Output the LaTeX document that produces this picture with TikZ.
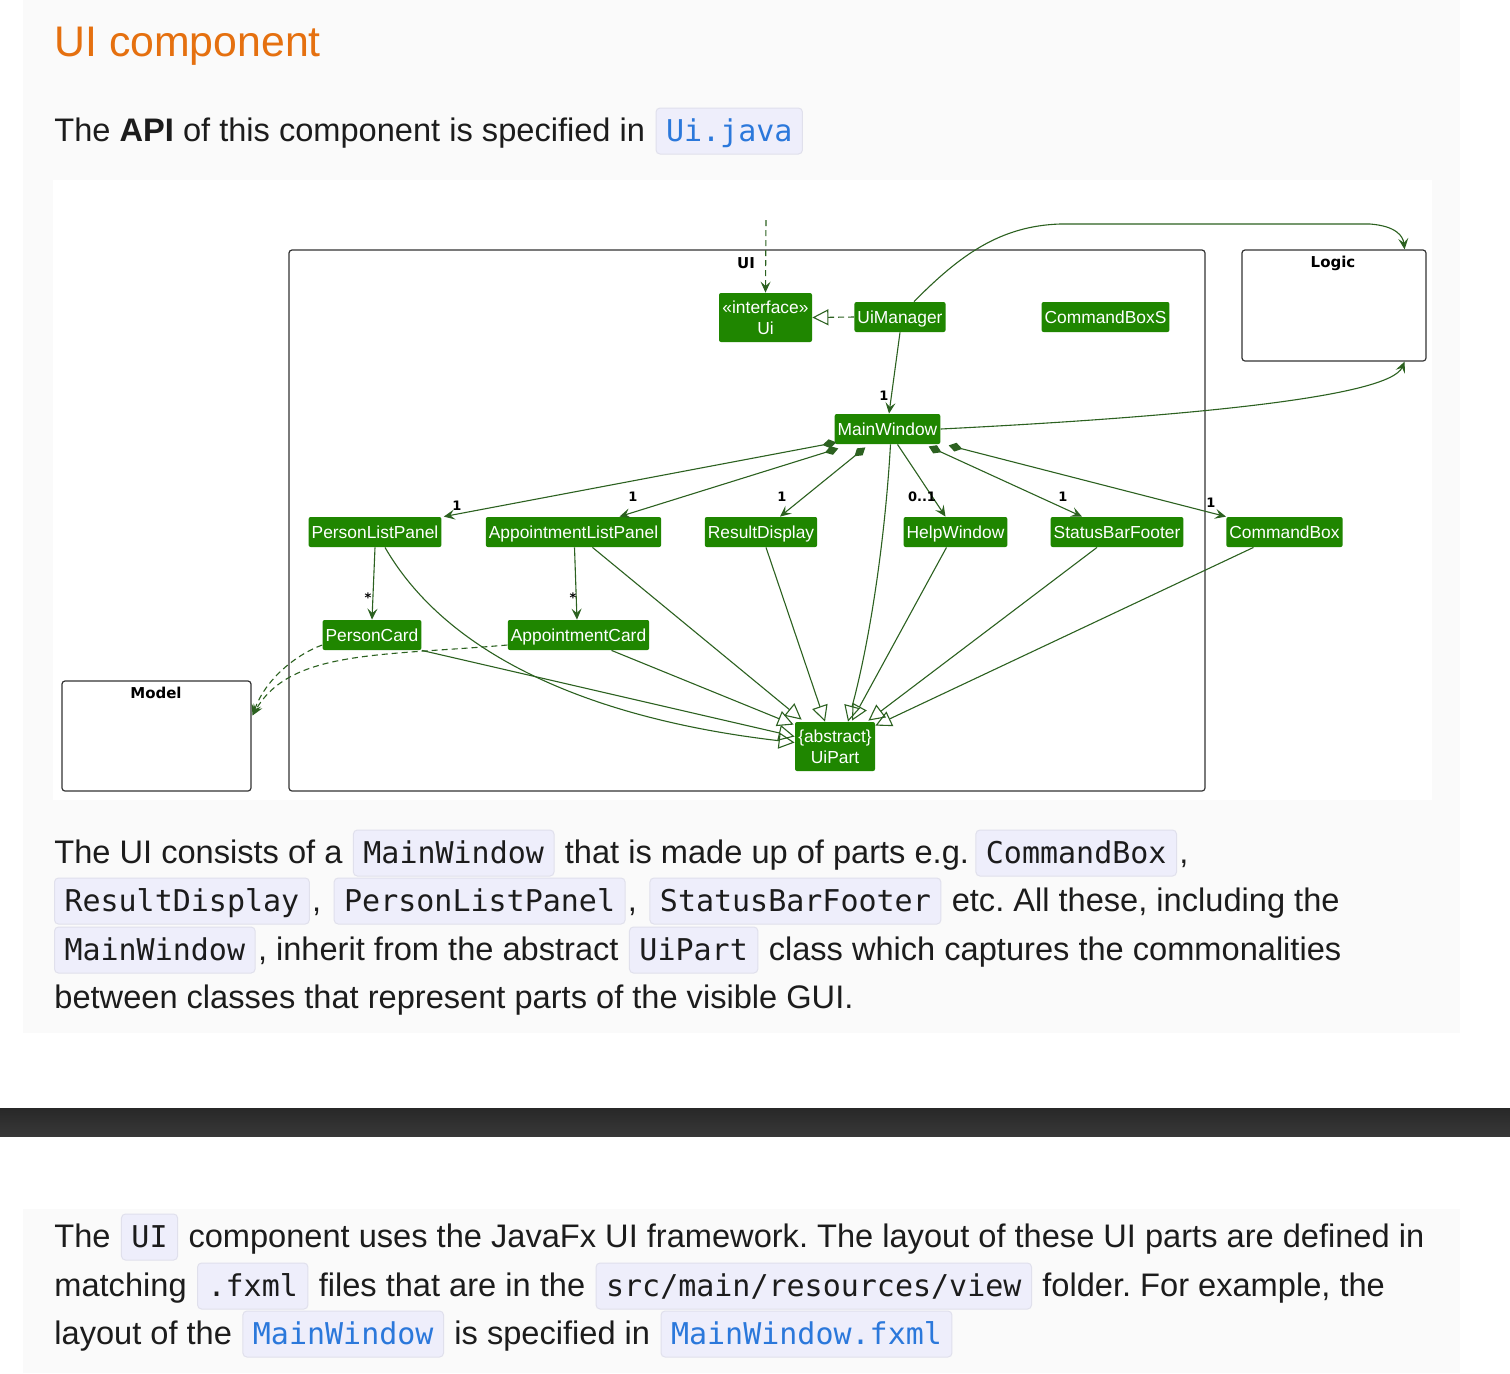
\documentclass[tikz,border=0pt]{standalone}
\usepackage{fontspec}
\setmainfont{Liberation Sans}
\newfontfamily\codefont{DejaVu Sans Mono}
\newfontfamily\labelfont{DejaVu Sans}
\usetikzlibrary{positioning, arrows.meta, calc}
\definecolor{cardbg}{HTML}{FAFAFA}
\definecolor{bodytext}{HTML}{1C1C1C}
\definecolor{titleorange}{HTML}{E5700F}
\definecolor{linkblue}{HTML}{2B78DB}
\definecolor{chipfill}{HTML}{EEEEFB}
\definecolor{chipline}{HTML}{E0E0EC}
\definecolor{umlgreen}{HTML}{1F8600}
\definecolor{edge}{HTML}{2C6120}
\definecolor{pkgline}{HTML}{333333}
\definecolor{barA}{HTML}{282828}
\definecolor{barB}{HTML}{383838}
\newcommand{\bodysize}{\fontsize{16.3}{19}\selectfont}
\frenchspacing
\tikzset{
  txt/.style={inner sep=0pt, anchor=base west, text=bodytext, font=\bodysize},
  chip/.style={draw=chipline, line width=0.5pt, fill=chipfill, rounded corners=2pt, text=bodytext,
    font=\codefont\fontsize{15}{18}\selectfont, inner xsep=5pt, inner ysep=0pt, text height=16.5pt, text depth=6.5pt},
  link/.style={text=linkblue},
  cls/.style={rectangle, rounded corners=1pt, fill=umlgreen, text=white, align=center,
    font=\fontsize{8.7}{10.5}\selectfont, inner xsep=1.5pt, inner ysep=0pt, minimum height=15pt,
    text height=7.8pt, text depth=1.6pt},
  twoline/.style={text height={}, text depth={}, minimum height=24.5pt},
  pkg/.style={draw=pkgline, line width=0.6pt, rounded corners=1.5pt},
  pkglabel/.style={font=\labelfont\bfseries\fontsize{7.5}{9}\selectfont, inner sep=0pt},
  mult/.style={font=\labelfont\bfseries\fontsize{6.5}{8}\selectfont, inner sep=0pt},
  assoc/.style={draw=edge, line width=0.55pt, -{Stealth[length=5.5pt, width=5pt, inset=2.2pt]}},
  compose/.style={draw=edge, line width=0.55pt, {Diamond[length=7pt, width=4.5pt]}-{Stealth[length=5.5pt, width=5pt, inset=2.2pt]}},
  extends/.style={draw=edge, line width=0.55pt, -{Triangle[open, length=8pt, width=8pt]}},
  realize/.style={extends, dash pattern=on 3pt off 2pt},
  depend/.style={assoc, dash pattern=on 3pt off 2pt}
}
\begin{document}
\begin{tikzpicture}[x=0.5pt, y=-0.5pt]
\useasboundingbox (0,0) rectangle (1510,1373);
% page background
\fill[white] (0,0) rectangle (1510,1373);
\fill[cardbg] (23,0) rectangle (1460,1033);
\fill[cardbg] (23,1209) rectangle (1460,1373);
\shade[top color=barA, bottom color=barB] (0,1108) rectangle (1510,1136);
\fill[white] (53,180) rectangle (1432,800);

% heading
\node[txt, text=titleorange, font=\fontsize{21.4}{25}\selectfont] (title) at (54,56) {UI component};
\node[txt] (apiA) at (54,141) {The \textbf{API} of this component is specified in};
\node[chip, link, base right=5pt of apiA] (apiB) {Ui.java};

% packages
\node[pkg, minimum width=458pt, minimum height=270.5pt] (uipkg) at (747,520.5) {};
\node[pkglabel] (uilabel) at (746,263) {UI};
\node[pkg, minimum width=92pt, minimum height=55.5pt] (logic) at (1334,305.5) {};
\node[pkglabel] (logiclabel) at (1333,263) {Logic};
\node[pkg, minimum width=94.5pt, minimum height=55pt] (model) at (156.5,736) {};
\node[pkglabel] (modellabel) at (156,693) {Model};

% classes
\node[cls, twoline, minimum width=46.5pt] (ui) at (765.5,317.5) {«interface»\\Ui};
\node[cls] (uimgr) at (900,317) {UiManager};
\node[cls] (cmdboxs) at (1105.5,317) {CommandBoxS};
\node[cls] (mainwin) at (887.5,429) {MainWindow};
\node[cls] (plp) at (375,532) {PersonListPanel};
\node[cls] (alp) at (573.5,532) {AppointmentListPanel};
\node[cls] (resdisp) at (761,532) {ResultDisplay};
\node[cls] (helpwin) at (955.5,532) {HelpWindow};
\node[cls] (sbf) at (1117,532) {StatusBarFooter};
\node[cls] (cmdbox) at (1284.5,532) {CommandBox};
\node[cls] (pcard) at (372,635) {PersonCard};
\node[cls] (acard) at (578.5,635) {AppointmentCard};
\node[cls, twoline, minimum width=40pt] (uipart) at (835,746.5) {\{abstract\}\\UiPart};

\coordinate (uiin) at (766,220);

% interface and logic
\draw[depend] (uiin) -- (ui.north);
\draw[realize] (uimgr.west) -- (ui.east);
\draw[assoc] (uimgr.south) -- ($(mainwin.north)+(1.5,0)$);
\draw[assoc] ($(uimgr.north)+(14,0)$) .. controls (960,255) and (1000,226) .. (1060,224)
  -- (1370,224) .. controls (1396,226) and (1403,236) .. ($(logic.north east)+(-22,0)$);
\draw[assoc] (mainwin.east) .. controls (1200,416) and (1390,396) .. ($(logic.south east)+(-22,0)$);

% parts of MainWindow
\draw[compose] ($(mainwin.south west)+(2,-2)$) -- ($(plp.north east)+(2,0)$);
\draw[compose] ($(mainwin.south west)+(4,4)$) -- ($(alp.north)+(46,0)$);
\draw[compose] ($(mainwin.south west)+(31,3)$) -- ($(resdisp.north)+(19,0)$);
\draw[assoc] ($(mainwin.south)+(10,0)$) -- ($(helpwin.north)+(-10,0)$);
\draw[compose] ($(mainwin.south east)+(-12,2)$) -- ($(sbf.north)+(-35,0)$);
\draw[compose] ($(mainwin.south east)+(8,1)$) -- (cmdbox.north west);
\draw[assoc] (plp.south) -- (pcard.north);
\draw[assoc] ($(alp.south)+(1,0)$) -- ($(acard.north)+(-1.5,0)$);

% multiplicities
\node[mult] (m1) at (884,396) {1};
\node[mult] (m2) at (457,506) {1};
\node[mult] (m3) at (633,497) {1};
\node[mult] (m4) at (782,497) {1};
\node[mult] (m5) at (922,497) {0..1};
\node[mult] (m6) at (1063,497) {1};
\node[mult] (m7) at (1211,503) {1};
\node[mult] (m8) at (368,598) {*};
\node[mult] (m9) at (573,598) {*};

% inheritance
\draw[extends] ($(plp.south)+(10,0)$) .. controls (450,660) and (600,720) .. ($(uipart.west)+(0,-4)$);
\draw[extends] (pcard.south east) -- ($(uipart.west)+(0,-10)$);
\draw[extends] ($(alp.south)+(19,0)$) -- ($(uipart.north west)+(7,-2)$);
\draw[extends] ($(acard.south)+(33,0)$) -- ($(uipart.north west)+(-1,3)$);
\draw[extends] ($(resdisp.south)+(5,0)$) -- ($(uipart.north)+(-10,0)$);
\draw[extends] ($(mainwin.south)+(3,0)$) .. controls (885,540) and (870,640) .. ($(uipart.north)+(13,0)$);
\draw[extends] ($(helpwin.south)+(-9,0)$) -- ($(uipart.north)+(17,-1)$);
\draw[extends] ($(sbf.south)+(-20,0)$) -- ($(uipart.north east)+(-7,-1)$);
\draw[extends] ($(cmdbox.south)+(-31,0)$) -- ($(uipart.north east)+(0,4)$);

% use of Model
\draw[depend] ($(pcard.west)+(0,10)$) .. controls (295,655) and (265,680) .. ($(model.north east)+(1,35)$);
\draw[depend] ($(acard.west)+(0,10)$) .. controls (380,656) and (290,650) .. ($(model.north east)+(1,35)$);

% first paragraph
\node[txt] (pA1) at (54,863) {The UI consists of a};
\node[chip, base right=5pt of pA1] (pA2) {MainWindow};
\node[txt, base right=5pt of pA2] (pA3) {that is made up of parts e.g.};
\node[chip, base right=3pt of pA3] (pA4) {CommandBox};
\node[txt, base right=1pt of pA4] (pA5) {,};
\node[chip, anchor=base west] (pB1) at (54,911) {ResultDisplay};
\node[txt, base right=1pt of pB1] (pB2) {,};
\node[chip, base right=6pt of pB2] (pB3) {PersonListPanel};
\node[txt, base right=1pt of pB3] (pB4) {,};
\node[chip, base right=6pt of pB4] (pB5) {StatusBarFooter};
\node[txt, base right=5pt of pB5] (pB6) {etc. All these, including the};
\node[chip, anchor=base west] (pC1) at (54,960) {MainWindow};
\node[txt, base right=1pt of pC1] (pC2) {, inherit from the abstract};
\node[chip, base right=5pt of pC2] (pC3) {UiPart};
\node[txt, base right=5pt of pC3] (pC4) {class which captures the commonalities};
\node[txt] (pD1) at (54,1008) {between classes that represent parts of the visible GUI.};

% second paragraph
\node[txt] (qA1) at (54,1247) {The};
\node[chip, base right=5pt of qA1] (qA2) {UI};
\node[txt, base right=5pt of qA2] (qA3) {component uses the JavaFx UI framework. The layout of these UI parts are defined in};
\node[txt] (qB1) at (54,1296) {matching};
\node[chip, base right=5pt of qB1] (qB2) {.fxml};
\node[txt, base right=5pt of qB2] (qB3) {files that are in the};
\node[chip, base right=5pt of qB3] (qB4) {src/main/resources/view};
\node[txt, base right=5pt of qB4] (qB5) {folder. For example, the};
\node[txt] (qC1) at (54,1344) {layout of the};
\node[chip, link, base right=5pt of qC1] (qC2) {MainWindow};
\node[txt, base right=5pt of qC2] (qC3) {is specified in};
\node[chip, link, base right=5pt of qC3] (qC4) {MainWindow.fxml};
\end{tikzpicture}
\end{document}
